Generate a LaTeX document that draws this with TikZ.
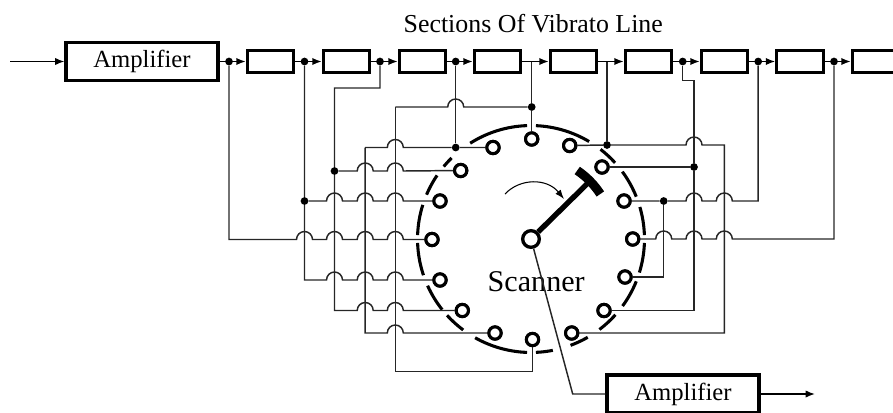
\documentclass[tikz,border=0pt]{standalone}
\usepackage{fontspec}
\setmainfont{Liberation Serif}
\usetikzlibrary{arrows.meta}
\tikzset{
  wire/.style={line width=1.1pt,draw=black!85},
  flow/.style={line width=1.1pt,-{Latex[length=7pt,width=5.5pt]}},
  ampbox/.style={draw,line width=2.3pt,minimum width=114pt,minimum height=28.5pt,inner sep=0pt,font=\fontsize{18.5}{20}\selectfont},
  secbox/.style={draw,line width=2.3pt,minimum width=35pt,minimum height=17pt,inner sep=0pt},
  joint/.style={circle,fill=black,inner sep=0pt,minimum size=5.8pt},
  pin/.style={circle,draw,fill=white,line width=2.3pt,inner sep=0pt,minimum size=9.2pt},
  hubpin/.style={circle,draw,fill=white,line width=2.5pt,inner sep=0pt,minimum size=12.5pt},
  ringseg/.style={line width=2.3pt},
}
% rightward hop over the vertical through #1, on the level of #2
\def\hop#1#2{-- ([xshift=-6pt]#1|-#2) arc[start angle=180,end angle=0,radius=6pt]}
\begin{document}
\begin{tikzpicture}[x=0.75pt,y=-0.75pt]
\useasboundingbox (0,0) rectangle (893,412);
\clip (0,0) rectangle (893,412);

% top chain
\coordinate (in) at (10,61.5);
\node[ampbox] (ampA) at (142,61.5) {Amplifier};
\node[secbox] (s1) at (270.5,61.5) {};
\node[secbox] (s2) at (346.5,61.5) {};
\node[secbox] (s3) at (422.5,61.5) {};
\node[secbox] (s4) at (497.5,61.5) {};
\node[secbox] (s5) at (573.5,61.5) {};
\node[secbox] (s6) at (648.5,61.5) {};
\node[secbox] (s7) at (724.5,61.5) {};
\node[secbox] (s8) at (800,61.5) {};
\node[secbox] (s9) at (875.5,61.5) {};
\draw[flow] (in) -- (ampA);
\foreach \a/\b in {ampA/s1,s1/s2,s2/s3,s3/s4,s4/s5,s5/s6,s6/s7,s7/s8,s8/s9}
  \draw[flow] (\a) -- (\b);

\node[joint] (t1) at (229,61.5) {};
\node[joint] (t2) at (304.5,61.5) {};
\node[joint] (t3) at (380,61.5) {};
\node[joint] (t4) at (455.7,61.5) {};
\coordinate (t5) at (531.7,61.5);
\coordinate (t6) at (607,61.5);
\node[joint] (t7) at (682.7,61.5) {};
\node[joint] (t8) at (758.2,61.5) {};
\node[joint] (t9) at (834,61.5) {};

% scanner centre
\coordinate (c) at (531,239);
% ring
\foreach \p/\q in {-87.5/-78.9,-69.6/-60,-52.9/-41.9,-36.2/-21.9,-17.2/-2,2/16.4,21.9/36.4,42.2/52.2,59.2/87.5,92/122.4,134.4/140.3,145.9/157,162.5/178,182/198.6,204.3/218.5,222.3/233.3,240.5/268}
  \draw[ringseg] ([shift={(\p:85.1pt)}]c) arc[start angle=\p,end angle=\q,radius=85.1pt];

% contacts
\node[pin] (pT) at (531.7,139) {};
\node[pin] (pR1) at (569.7,145.5) {};
\node[pin] (pR2) at (602,167) {};
\node[pin] (pR3) at (624,201) {};
\node[pin] (pR4) at (632.7,239) {};
\node[pin] (pR5) at (625,277) {};
\node[pin] (pR6) at (604,310.5) {};
\node[pin] (pR7) at (571.7,333) {};
\node[pin] (pB) at (532.5,339.5) {};
\node[pin] (pL7) at (495,333) {};
\node[pin] (pL6) at (462.3,310.5) {};
\node[pin] (pL5) at (440,280) {};
\node[pin] (pL4) at (432,239.5) {};
\node[pin] (pL3) at (440,201) {};
\node[pin] (pL2) at (460.7,170.5) {};
\node[pin] (pL1) at (493,147.5) {};

% junctions
\node[joint] (jB) at (304.5,201) {};
\node[joint] (jC) at (334.5,171) {};
\node[joint] (jT4) at (455.7,147.5) {};
\node[joint] (jT5) at (531.7,107) {};
\node[joint] (jR1) at (607,145) {};
\node[joint] (jR2) at (694,167) {};
\node[joint] (jR3) at (663.7,201) {};

\coordinate (vC) at (334.5,88);
\coordinate (vD) at (365.2,147.5);
\coordinate (vE) at (395.3,107);
\coordinate (vG) at (694,80.7);
\coordinate (vH) at (724.3,145);
\coordinate (lowE) at (395.3,371.3);
\coordinate (lowB) at (532.5,371.3);

% left side
\draw[wire] (t1) |- (pL4 -| t1) \hop{t2}{pL4}\hop{vC}{pL4}\hop{vD}{pL4}\hop{vE}{pL4} -- (pL4);
\draw[wire] (t2) -- (jB) |- (pL5 -| jB) \hop{vC}{pL5}\hop{vD}{pL5}\hop{vE}{pL5} -- (pL5);
\draw[wire] (jB) \hop{vC}{jB}\hop{vD}{jB}\hop{vE}{jB} -- (pL3);
\draw[wire] (t3) |- (vC) -- (jC) |- (pL6 -| jC) \hop{vD}{pL6}\hop{vE}{pL6} -- (pL6);
\draw[wire] (jC) \hop{vD}{jC}\hop{vE}{jC} -- (pL2);
\draw[wire] (vD) \hop{vE}{vD} -- (jT4) -- (pL1);
\draw[wire] (vD) -- (vD |- pL7) \hop{vE}{pL7} -- (pL7);
\draw[wire] (t4) -- (jT4);
\draw[wire] (t5) -- (jT5) -- (pT);
\draw[wire] (vE) \hop{t4}{vE} -- (jT5);
\draw[wire] (vE) -- (lowE) -- (lowB) -- (pB);

% right side
\draw[wire] (t6) -- (jR1);
\draw[wire] (pR1) -- (jR1) \hop{vG}{jR1} -- (vH) -- (vH |- pR7) -- (pR7);
\draw[wire] (t7) |- (vG) -- (jR2) -- (jR2 |- pR6) -- (pR6);
\draw[wire] (pR2) -- (jR2);
\draw[wire] (pR3) -- (jR3) \hop{vG}{jR3}\hop{vH}{jR3} -- (jR3 -| t8) -- (t8);
\draw[wire] (jR3) |- (pR5);
\draw[wire] (pR4) \hop{jR3}{pR4}\hop{vG}{pR4}\hop{vH}{pR4} -- (pR4 -| t9) -- (t9);

% contacts above the wires
\foreach \n in {pT,pR1,pR2,pR3,pR4,pR5,pR6,pR7,pB,pL7,pL6,pL5,pL4,pL3,pL2,pL1}
  \node[pin] at (\n) {};

% wiper
\node[hubpin] (hub) at (c) {};
\draw[line width=4pt] (hub) -- ([shift={(44.5:61.5pt)}]c);
\draw[line width=6.8pt] ([shift={(33:62pt)}]c) arc[start angle=33,end angle=56,radius=62pt];
\coordinate (swA) at (505,194);
\coordinate (swB) at (564,199);
\draw[line width=.8pt,-{Latex[length=7pt,width=5pt]}] (swA) .. controls (520,178) and (547,178) .. (swB);

% labels
\node[font=\fontsize{19.4}{22}\selectfont,anchor=base] (title) at (533.3,32) {Sections Of Vibrato Line};
\node[font=\fontsize{22.6}{24}\selectfont,anchor=base west] (scan) at (483,291.5) {Scanner};

% output
\node[ampbox] (ampB) at (683,394) {Amplifier};
\coordinate (bend) at (572.7,394);
\coordinate (out) at (815,394);
\draw[wire] (hub) -- (bend) -- (ampB);
\draw[flow] (ampB) -- (out);
\end{tikzpicture}
\end{document}
